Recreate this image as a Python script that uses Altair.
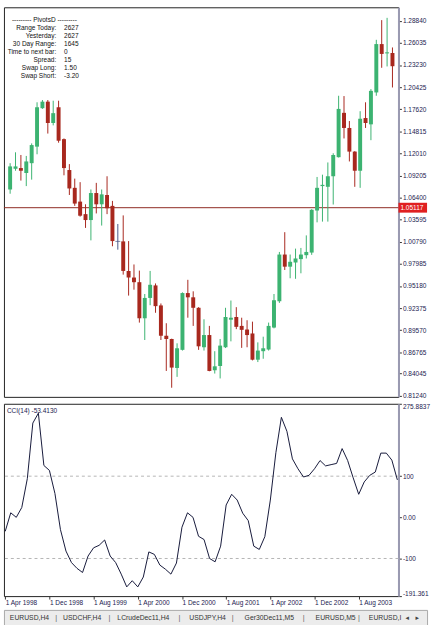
import altair as alt
import pandas as pd

# ---------------- data ----------------
opens = [1.0743, 1.1006, 1.1015, 1.0952, 1.1077, 1.1287, 1.1775, 1.1858, 1.1587, 1.1787,
         1.1382, 1.0990, 1.0764, 1.0589, 1.0430, 1.0355, 1.0698, 1.0555, 1.0673, 1.0535,
         1.0084, 1.0084, 0.9709, 0.9625, 0.9566, 0.9108, 0.9366, 0.9525, 0.9271, 0.8886,
         0.8845, 0.8477, 0.8707, 0.9428, 0.9374, 0.9241, 0.8740, 0.8895, 0.8448, 0.8502,
         0.8740, 0.9090, 0.9124, 0.9011, 0.8965, 0.8915, 0.8582, 0.8690, 0.8711, 0.8990,
         0.9324, 0.9917, 0.9763, 0.9816, 0.9859, 0.9909, 0.9942, 1.0476, 1.0786, 1.0777,
         1.0911, 1.1153, 1.1716, 1.1524, 1.1224, 1.0981, 1.1650, 1.1570, 1.1975, 1.2589,
         1.2471, 1.2476]
highs = [1.1077, 1.1215, 1.1181, 1.1169, 1.1328, 1.1850, 1.1879, 1.1879, 1.1870, 1.1870,
         1.1391, 1.1065, 1.0881, 1.0836, 1.0555, 1.0743, 1.0827, 1.0743, 1.0911, 1.0598,
         1.0305, 1.0414, 1.0088, 0.9791, 0.9713, 0.9416, 0.9709, 0.9550, 0.9296, 0.9045,
         0.8849, 0.8790, 0.9437, 0.9596, 0.9450, 0.9249, 0.9095, 0.9011, 0.8690, 0.8845,
         0.9241, 0.9333, 0.9249, 0.9115, 0.9083, 0.9065, 0.8802, 0.8874, 0.9053, 0.9416,
         0.9950, 1.0201, 0.9917, 0.9992, 1.0001, 1.0160, 1.0493, 1.0902, 1.0931, 1.1086,
         1.1203, 1.1933, 1.1929, 1.1612, 1.1230, 1.1737, 1.1850, 1.2017, 1.2643, 1.2893,
         1.2922, 1.2546]
lows = [1.0689, 1.0981, 1.0856, 1.0786, 1.0868, 1.1190, 1.1766, 1.1453, 1.1557, 1.1337,
        1.0923, 1.0673, 1.0535, 1.0398, 1.0255, 1.0097, 1.0439, 1.0285, 1.0430, 1.0022,
        0.9979, 0.9662, 0.9396, 0.9471, 0.9053, 0.8832, 0.9274, 0.9178, 0.8832, 0.8439,
        0.8226, 0.8364, 0.8698, 0.9115, 0.9011, 0.8707, 0.8698, 0.8435, 0.8406, 0.8344,
        0.8730, 0.8815, 0.8970, 0.8732, 0.8740, 0.8573, 0.8552, 0.8594, 0.8698, 0.8980,
        0.9303, 0.9721, 0.9616, 0.9609, 0.9679, 0.9867, 0.9913, 1.0326, 1.0335, 1.0335,
        1.0552, 1.1149, 1.1391, 1.1099, 1.0777, 1.0764, 1.1524, 1.1369, 1.1933, 1.2288,
        1.2305, 1.2038]
closes = [1.1036, 1.1036, 1.0981, 1.1099, 1.1307, 1.1787, 1.1858, 1.1587, 1.1712, 1.1362,
          1.1015, 1.0756, 1.0564, 1.0410, 1.0355, 1.0698, 1.0555, 1.0681, 1.0505, 1.0088,
          1.0084, 0.9709, 0.9625, 0.9566, 0.9108, 0.9366, 0.9533, 0.9262, 0.8886, 0.8845,
          0.8482, 0.8727, 0.9428, 0.9374, 0.9241, 0.8752, 0.8895, 0.8439, 0.8498, 0.8761,
          0.9124, 0.9115, 0.8999, 0.8961, 0.8895, 0.8582, 0.8698, 0.8727, 0.9011, 0.9337,
          0.9917, 0.9763, 0.9825, 0.9867, 0.9917, 0.9950, 1.0485, 1.0764, 1.0802, 1.0911,
          1.1181, 1.1766, 1.1524, 1.1224, 1.0981, 1.1641, 1.1587, 1.1995, 1.2589, 1.2464,
          1.2484, 1.2308]
cci_values = [-34, 11, 0, 24, 94, 229, 253, 126, 114, 58,
              -30, -82, -110, -124, -134, -94, -74, -68, -55, -94,
              -110, -138, -169, -154, -169, -145, -84, -90, -116, -126,
              -138, -111, -24, 11, 0, -46, -54, -100, -108, -70,
              30, 56, 42, 10, -8, -70, -78, -47, 42, 157,
              243, 209, 142, 118, 98, 102, 118, 138, 125, 128,
              131, 167, 138, 96, 56, 86, 102, 110, 156, 156,
              139, 91]

date_tick_bars = [0, 8, 16, 24, 32, 40, 48, 56, 64]
date_labels = ["1 Apr 1998", "1 Dec 1998", "1 Aug 1999", "1 Apr 2000", "1 Dec 2000",
               "1 Aug 2001", "1 Apr 2002", "1 Dec 2002", "1 Aug 2003"]
price_ticks = [1.28840, 1.26035, 1.23230, 1.20425, 1.17620, 1.14815, 1.12010, 1.09205,
               1.06400, 1.03595, 1.00790, 0.97985, 0.95180, 0.92375, 0.89570, 0.86765,
               0.84045, 0.81240]
cci_ticks = [275.8837, 100, 0, -100, -191.361]
cci_tick_labels = ["275.8837", "100", "0.00", "-100", "-191.361"]
cci_levels = [100, -100]
current_price = 1.05117
cci_title = "CCI(14) -53.4130"

info_header = "---------  PivotsD  ---------"
info_labels = ["Range  Today:", "Yesterday:", "30 Day Range:", "Time to next bar:",
               "Spread:", "Swap  Long:", "Swap  Short:"]
info_values = ["2627", "2627", "1645", "0", "15", "1.50", "-3.20"]
tabs = ["EURUSD,H4", "USDCHF,H4", "LCrudeDec11,H4", "USDJPY,H4", "Ger30Dec11,M5",
        "EURUSD,M5", "EURUSD,I"]

# ---------------- styling / layout ----------------
FONT = "Liberation Sans"
FS = 6.6
W = 400
H_PRICE = 395
H_CCI = 195
AXIS_COLOR = "#1c2250"
BULL = "#3CB371"
BEAR = "#E31414"
DOJI = "#4a5788"

kind = ["bull" if c > o else ("bear" if c < o else "doji") for o, c in zip(opens, closes)]
df = pd.DataFrame({"i": list(range(len(opens))), "open": opens, "high": highs,
                   "low": lows, "close": closes, "kind": kind, "cci": cci_values})

xscale = alt.Scale(domain=[-0.232, 71.196], nice=False, zero=False)
pscale = alt.Scale(domain=[0.8110, 1.3056], nice=False, zero=False)
cscale = alt.Scale(domain=[-191.361, 275.8837], nice=False, zero=False)

price_axis = alt.Axis(orient="right", values=price_ticks, format=".5f", title=None,
                      grid=False, labelFont=FONT, labelFontSize=FS, labelColor=AXIS_COLOR,
                      tickSize=3, tickColor="#333333", domainColor="#9a9ab2", domainWidth=2,
                      labelPadding=1)

xnone = alt.X("i:Q", scale=xscale, axis=None)

body_color = alt.Color("kind:N", legend=None,
                       scale=alt.Scale(domain=["bull", "bear", "doji"], range=[BULL, BEAR, DOJI]))
wick_color = alt.Color("kind:N", legend=None,
                       scale=alt.Scale(domain=["bull", "bear", "doji"], range=[BULL, "#A8281E", DOJI]))

base = alt.Chart(df)
wicks = base.mark_rule(strokeWidth=1).encode(
    x=xnone,
    y=alt.Y("low:Q", scale=pscale, axis=price_axis, title=None),
    y2="high:Q",
    color=wick_color,
)
bodies = base.mark_bar(size=4).encode(
    x=xnone,
    y=alt.Y("open:Q", scale=pscale, axis=price_axis, title=None),
    y2="close:Q",
    color=body_color,
)
dojis = base.transform_filter("datum.kind == 'doji'").mark_tick(
    orient="horizontal", size=5, thickness=1, color=DOJI).encode(
    x=xnone,
    y=alt.Y("close:Q", scale=pscale, axis=price_axis, title=None),
)
pdf = pd.DataFrame({"p": [current_price], "t": [f"{current_price:.5f}"]})
price_line = alt.Chart(pdf).mark_rule(color="#8e2a22", strokeWidth=1).encode(
    y=alt.Y("p:Q", scale=pscale, axis=price_axis, title=None))
price_box = alt.Chart(pdf).mark_tick(orient="horizontal", size=29, thickness=10,
                                     color="#E02020", opacity=1).encode(
    x=alt.value(W + 14.5),
    y=alt.Y("p:Q", scale=pscale, axis=price_axis, title=None))
price_txt = alt.Chart(pdf).mark_text(font=FONT, fontSize=FS, color="white", align="left",
                                     baseline="middle").encode(
    x=alt.value(W + 2),
    y=alt.Y("p:Q", scale=pscale, axis=price_axis, title=None),
    text="t:N")

info_layers = [alt.Chart(pd.DataFrame({"t": [info_header]})).mark_text(
    font=FONT, fontSize=FS, color="#111111", align="center", baseline="middle").encode(
    x=alt.value(41), y=alt.value(13), text="t:N")]
for k, (lab, val) in enumerate(zip(info_labels, info_values)):
    yy = 13 + 8.1 * (k + 1)
    info_layers.append(alt.Chart(pd.DataFrame({"t": [lab]})).mark_text(
        font=FONT, fontSize=FS, color="#111111", align="right", baseline="middle").encode(
        x=alt.value(53), y=alt.value(yy), text="t:N"))
    info_layers.append(alt.Chart(pd.DataFrame({"t": [val]})).mark_text(
        font=FONT, fontSize=FS, color="#111111", align="left", baseline="middle").encode(
        x=alt.value(61), y=alt.value(yy), text="t:N"))

price_chart = alt.layer(price_line, wicks, bodies, dojis, price_box, price_txt,
                        *info_layers).properties(width=W, height=H_PRICE)

# ---------------- CCI panel ----------------
date_expr = "[" + ",".join(f"'{d}'" for d in date_labels) + "][round(datum.value / 8)]"
cci_expr = ""
for v, lab in zip(cci_ticks, cci_tick_labels):
    cci_expr += f"abs(datum.value - ({v})) < 0.01 ? '{lab}' : "
cci_expr += "''"

x_axis = alt.Axis(values=date_tick_bars, labelExpr=date_expr, title=None, grid=False,
                  labelFont=FONT, labelFontSize=FS, labelColor=AXIS_COLOR, labelAlign="left",
                  labelBaseline="top", tickSize=3, tickColor="#333333", domain=False,
                  labelPadding=1)
cci_axis = alt.Axis(orient="right", values=cci_ticks, labelExpr=cci_expr, title=None,
                    grid=False, labelFont=FONT, labelFontSize=FS, labelColor=AXIS_COLOR,
                    tickSize=3, tickColor="#333333", domainColor="#9a9ab2", domainWidth=2,
                    labelFlush=True, labelPadding=1)

cci_line = alt.Chart(df).mark_line(color="#15183a", strokeWidth=1).encode(
    x=alt.X("i:Q", scale=xscale, axis=x_axis),
    y=alt.Y("cci:Q", scale=cscale, axis=cci_axis, title=None))
levels = alt.Chart(pd.DataFrame({"lv": cci_levels})).mark_rule(
    color="#b5b5b5", strokeDash=[3, 3], strokeWidth=1).encode(
    y=alt.Y("lv:Q", scale=cscale, axis=cci_axis, title=None))
cci_label = alt.Chart(pd.DataFrame({"t": [cci_title]})).mark_text(
    font=FONT, fontSize=FS, color="#1c2250", align="left", baseline="middle").encode(
    x=alt.value(3), y=alt.value(7), text="t:N")

cci_chart = alt.layer(levels, cci_line, cci_label).properties(width=W, height=H_CCI)

# ---------------- tab bar ----------------
tab_x = [6, 60, 115, 188, 244, 316, 370]
sep_x = [53, 107, 178, 232, 304, 360]
tab_layers = []
for name, x in zip(tabs, tab_x):
    tab_layers.append(alt.Chart(pd.DataFrame({"t": [name]})).mark_text(
        font=FONT, fontSize=6.9, color="#333333", align="left", baseline="middle").encode(
        x=alt.value(x), y=alt.value(8), text="t:N"))
for x in sep_x:
    tab_layers.append(alt.Chart(pd.DataFrame({"t": ["|"]})).mark_text(
        font=FONT, fontSize=7.5, color="#666666", align="center", baseline="middle").encode(
        x=alt.value(x), y=alt.value(8), text="t:N"))
for sym, x in zip(["\u25C2", "\u25B8"], [409, 419]):
    tab_layers.append(alt.Chart(pd.DataFrame({"t": [sym]})).mark_text(
        font="DejaVu Sans", fontSize=7, color="#444444", align="center", baseline="middle").encode(
        x=alt.value(x), y=alt.value(8), text="t:N"))

tab_chart = alt.layer(*tab_layers).properties(
    width=429, height=17,
    view=alt.ViewBackground(fill="#ECECEC", stroke="#A8A8A8", strokeWidth=1))

chart = alt.vconcat(
    alt.vconcat(price_chart, cci_chart, spacing=3),
    tab_chart, spacing=1,
).properties(
    padding={"left": 2, "top": 2, "right": 0, "bottom": 0},
    background="white",
).configure_view(stroke="#222222", strokeWidth=1).configure_concat(spacing=3)

chart.save("out.html", embed_options={"renderer": "svg", "actions": False})
